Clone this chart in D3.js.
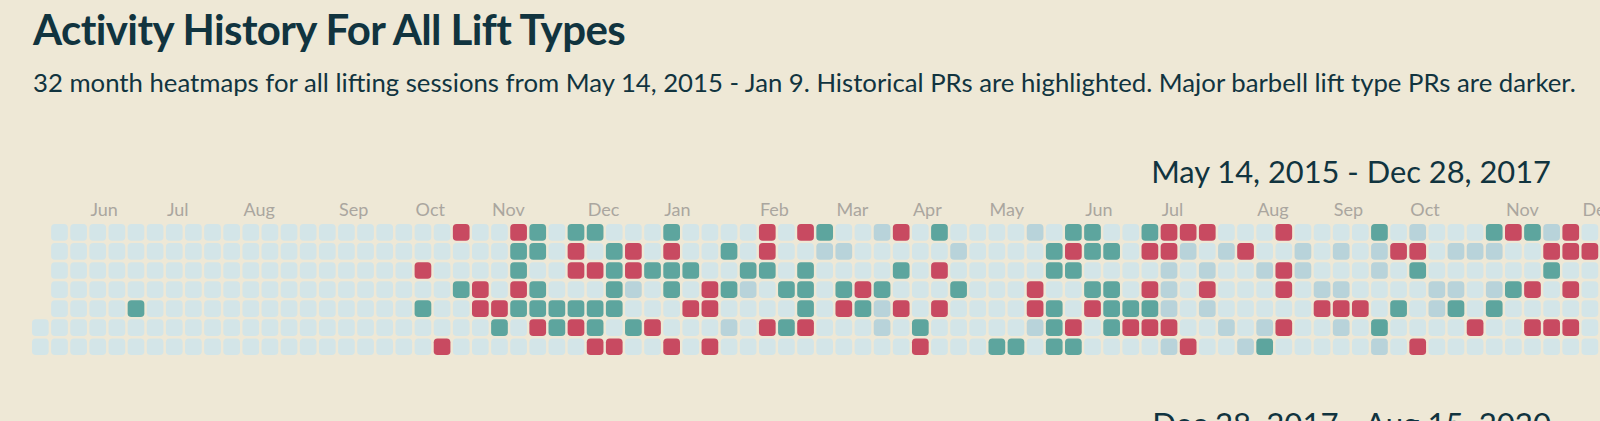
<!DOCTYPE html>
<html>
<head>
<meta charset="utf-8">
<script src="https://cdn.jsdelivr.net/npm/d3@7"></script>
<style>
  html, body { margin: 0; padding: 0; background: #eee8d6; overflow: hidden; }
  svg { display: block; }
</style>
</head>
<body>
<div id="chart"></div>
<script>
// ---- data ----
const titleText = "Activity History For All Lift Types";
const subtitleText = "32 month heatmaps for all lifting sessions from May 14, 2015 - Jan 9. Historical PRs are highlighted. Major barbell lift type PRs are darker.";
const rangeHeadings = ["May 14, 2015 - Dec 28, 2017", "Dec 28, 2017 - Aug 15, 2020"];

// one string per week (column), one char per weekday Mon..Sun
// ' ' no day, '.' no session, 'm' session, 't' PR, 'r' major barbell PR
const weeks = [
  "     ..", ".......", ".......", ".......", ".......", "....t..", ".......", ".......",
  ".......", ".......", ".......", ".......", ".......", ".......", ".......", ".......",
  ".......", ".......", ".......", ".......", "..r.t..", "......r", "r..t...", "...rr..",
  "....rt.", "rttrt..", "tt.ttr.", "....tt.", "trr.tr.", "t.r.ttr", ".tttt.r", ".rrm.t.",
  "..t..r.", "trtt..r", "..t.r..", "...rr.r", ".t.t.m.", "..tm...", "rrt..r.", "...t.t.",
  "r.tttr.", "tm.....", ".m.tr..", "...rt..", "m..tmm.", "r.t.r..", ".....tr", "t.r.r..",
  ".m.t...", ".......", "......t", "......t", "m..rrm.", ".tt.ttt", "trt..rt", "tt.tr..",
  ".t.ttt.", "....tr.", "tr.rtr.", "rrmmmrm", "rm....r", "r.mrm..", ".m...m.", ".r....m",
  "..m..mt", "r.rr.r.", ".mm....", "...mr..", ".m.mrm.", "....r..", "tmm..tm", ".r..t..",
  "mrt...r", "...mm..", ".m.mt..", ".m...r.", "tm.mt..", "r..t...", "t..r.r.", "mrt..r.",
  "rr.r.r.", ".r....."
];
const days = ["Mon", "Tue", "Wed", "Thu", "Fri", "Sat", "Sun"];
const monthNames = ["Jun","Jul","Aug","Sep","Oct","Nov","Dec","Jan","Feb","Mar","Apr","May","Jun","Jul","Aug","Sep","Oct","Nov","Dec"];
const monthWeek  = [3, 7, 11, 16, 20, 24, 29, 33, 38, 42, 46, 50, 55, 59, 64, 68, 72, 77, 81];
const states = [".", "m", "t", "r"];
const stateColors = ["#d3e5e8", "#b8d3da", "#5da59e", "#c84a61"];

// ---- layout ----
const W = 1600, H = 421;
const ink = "#11343f";
const font = "Lato, 'Open Sans', sans-serif";

const svg = d3.select("#chart").append("svg").attr("width", W).attr("height", H);

function fitText(sel, target) {
  const w = sel.node().getComputedTextLength();
  const fs = parseFloat(sel.attr("font-size"));
  sel.attr("font-size", fs * target / w);
}

const title = svg.append("text")
  .attr("x", 33).attr("y", 45)
  .attr("font-family", font).attr("font-weight", 700)
  .attr("font-size", 38).attr("letter-spacing", -0.6)
  .attr("fill", ink).text(titleText);
fitText(title, 590);

const sub = svg.append("text")
  .attr("x", 33).attr("y", 92)
  .attr("font-family", font).attr("font-weight", 400)
  .attr("font-size", 21).attr("fill", ink).text(subtitleText);
fitText(sub, 1544);

const color = d3.scaleOrdinal().domain(states).range(stateColors);

const pitchX = 19.13, pitchY = 19.07, cell = 16.7;
const x = d3.scaleBand().domain(d3.range(weeks.length))
  .range([32, 32 + pitchX * (weeks.length - (1 - cell / pitchX))])
  .paddingInner(1 - cell / pitchX).paddingOuter(0);
const y = d3.scaleBand().domain(days)
  .range([224, 224 + pitchY * (days.length - (1 - cell / pitchY))])
  .paddingInner(1 - cell / pitchY).paddingOuter(0);

// block heading
const head = svg.append("text")
  .attr("x", 1551).attr("y", 183)
  .attr("text-anchor", "end")
  .attr("font-family", font).attr("font-size", 28)
  .attr("fill", ink).text(rangeHeadings[0]);
fitText(head, 400);

// month labels
svg.append("g").selectAll("text")
  .data(monthNames.map((m, i) => ({ m, w: monthWeek[i] })))
  .join("text")
  .attr("x", d => x(d.w) + 1)
  .attr("y", 216)
  .attr("font-family", font).attr("font-size", 18)
  .attr("fill", "#aaa69f")
  .text(d => d.m);

// cells
const cells = [];
weeks.forEach((s, wi) => {
  s.split("").forEach((ch, di) => {
    if (ch !== " ") cells.push({ w: wi, d: days[di], s: ch });
  });
});
svg.append("g").selectAll("rect")
  .data(cells)
  .join("rect")
  .attr("x", d => x(d.w))
  .attr("y", d => y(d.d))
  .attr("width", x.bandwidth())
  .attr("height", y.bandwidth())
  .attr("rx", 3.8).attr("ry", 3.8)
  .attr("fill", d => color(d.s));

// second block heading (cut off at the bottom)
const head2 = svg.append("text")
  .attr("x", 1551).attr("y", 435)
  .attr("text-anchor", "end")
  .attr("font-family", font).attr("font-size", 28)
  .attr("fill", ink).text(rangeHeadings[1]);
fitText(head2, 399);
</script>
</body>
</html>
